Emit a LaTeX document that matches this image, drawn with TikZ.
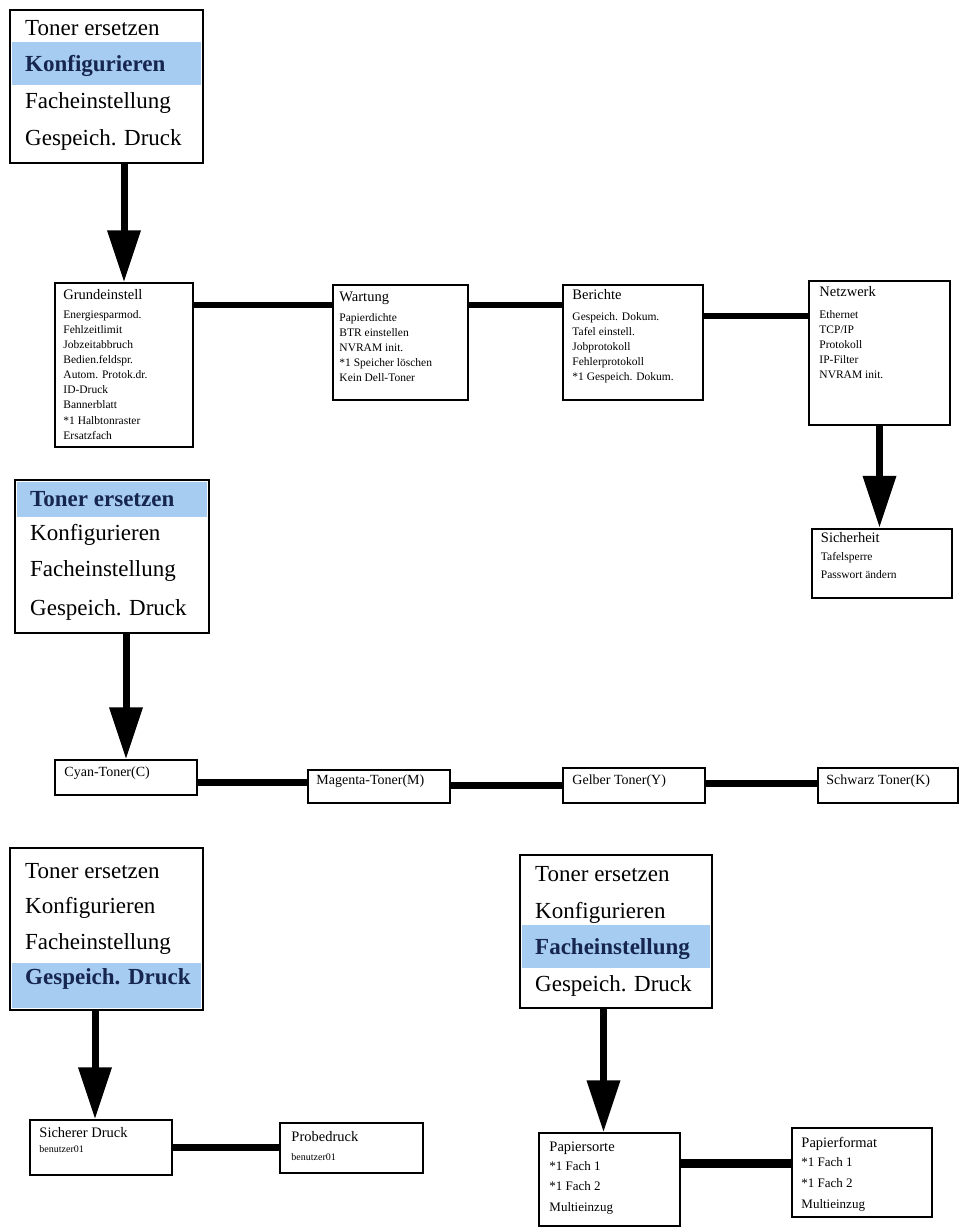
\documentclass[tikz,border=0pt]{standalone}
\usepackage{fontspec}
\setmainfont{Liberation Serif}
\usetikzlibrary{arrows.meta,calc}
\definecolor{BandBlue}{RGB}{166,204,242}
\definecolor{BandText}{RGB}{22,38,78}

\begin{document}
\begin{tikzpicture}
  [
    x=1pt, y=-1pt,
    menu box/.style={draw, line width=2pt, minimum width=193pt, minimum height=153pt, inner sep=0pt},
    menu text/.style={anchor=west, inner sep=0pt, font=\fontsize{23}{23}\selectfont, text height=16pt, text depth=0pt},
    menu hl/.style={menu text, font=\fontsize{23}{23}\selectfont\bfseries, text=BandText},
    sub box/.style={draw, line width=1.5pt, inner sep=0pt},
    head text/.style={anchor=west, inner sep=0pt, font=\fontsize{14.5}{14.5}\selectfont, text height=10pt, text depth=0pt},
    item text/.style={anchor=west, inner sep=0pt, font=\fontsize{11.5}{11.5}\selectfont, text height=8pt, text depth=0pt},
    small text/.style={item text, font=\fontsize{10}{10}\selectfont, text height=7pt},
    link/.style={line width=6pt},
    down arrow/.style={line width=7pt, -{Triangle[width=32pt, length=52pt]}}
  ]
  \useasboundingbox (0,0) rectangle (964,1231);

  % menu 1: Konfigurieren
  \fill[BandBlue] (12,42) rectangle (201,85);
  \node[menu box] (menu1) at (106.5,86.5) {};
  \node[menu text] (m1-1) at (25,28) {Toner ersetzen};
  \node[menu hl] (m1-2) at (25,63) {Konfigurieren};
  \node[menu text] (m1-3) at (25,100) {Facheinstellung};
  \node[menu text] (m1-4) at (25,137) {Gespeich. Druck};

  % Konfigurieren submenus
  \node[sub box, minimum width=138pt, minimum height=164pt] (grund) at (124,365) {};
  \node[head text] (grund-h) at ($(grund.north west)+(9,12)$) {Grundeinstell};
  \foreach \t [count=\i] in {Energiesparmod., Fehlzeitlimit, Jobzeitabbruch, Bedien.feldspr., Autom. Protok.dr., ID-Druck, Bannerblatt, *1 Halbtonraster, Ersatzfach}
    \node[item text] (grund-\i) at ($(grund.north west)+(9,17+15.1*\i)$) {\t};

  \node[sub box, minimum width=135pt, minimum height=115pt] (wart) at (400.5,342.5) {};
  \node[head text] (wart-h) at ($(wart.north west)+(7,12)$) {Wartung};
  \foreach \t [count=\i] in {Papierdichte, BTR einstellen, NVRAM init., *1 Speicher löschen, Kein Dell-Toner}
    \node[item text] (wart-\i) at ($(wart.north west)+(7,18+15*\i)$) {\t};

  \node[sub box, minimum width=140pt, minimum height=115pt] (ber) at (633,342.5) {};
  \node[head text] (ber-h) at ($(ber.north west)+(10,10)$) {Berichte};
  \foreach \t [count=\i] in {Gespeich. Dokum., Tafel einstell., Jobprotokoll, Fehlerprotokoll, *1 Gespeich. Dokum.}
    \node[item text] (ber-\i) at ($(ber.north west)+(10,17+15*\i)$) {\t};

  \node[sub box, minimum width=141pt, minimum height=144pt] (netz) at (879.5,353) {};
  \node[head text] (netz-h) at ($(netz.north west)+(11,11)$) {Netzwerk};
  \foreach \t [count=\i] in {Ethernet, TCP/IP, Protokoll, IP-Filter, NVRAM init.}
    \node[item text] (netz-\i) at ($(netz.north west)+(11,19+15*\i)$) {\t};

  \node[sub box, line width=2.5pt, minimum width=140pt, minimum height=69pt] (sich) at (882,563.5) {};
  \node[head text] (sich-h) at ($(sich.north west)+(10,10)$) {Sicherheit};
  \foreach \t [count=\i] in {Tafelsperre, Passwort ändern}
    \node[item text] (sich-\i) at ($(sich.north west)+(10,11+18*\i)$) {\t};

  \coordinate (r1) at (0,305);
  \coordinate (r2) at (0,316);
  \draw[down arrow] (menu1.south -| grund.north) -- (grund.north);
  \draw[link] (grund.east |- r1) -- (wart.west |- r1);
  \draw[link] (wart.east |- r1) -- (ber.west |- r1);
  \draw[link] (ber.east |- r2) -- (netz.west |- r2);
  \draw[down arrow] (netz.south) -- (sich.north -| netz.south);

  % menu 2: Toner ersetzen
  \fill[BandBlue] (17,482) rectangle (207,517);
  \node[menu box, minimum width=194pt] (menu2) at (112,556.5) {};
  \node[menu hl] (m2-1) at (30,498) {Toner ersetzen};
  \node[menu text] (m2-2) at (30,532) {Konfigurieren};
  \node[menu text] (m2-3) at (30,568) {Facheinstellung};
  \node[menu text] (m2-4) at (30,607) {Gespeich. Druck};

  \node[sub box, minimum width=142pt, minimum height=35pt] (cyan) at (126,777.5) {};
  \node[head text, font=\fontsize{14}{14}\selectfont] (cyan-t) at ($(cyan.north west)+(10,12)$) {Cyan-Toner(C)};
  \node[sub box, minimum width=142pt, minimum height=33pt] (mag) at (379,786.5) {};
  \node[head text, font=\fontsize{14}{14}\selectfont] (mag-t) at ($(mag.north west)+(9,10)$) {Magenta-Toner(M)};
  \node[sub box, minimum width=142pt, minimum height=35pt] (gelb) at (634,785.5) {};
  \node[head text, font=\fontsize{14}{14}\selectfont] (gelb-t) at ($(gelb.north west)+(10,12)$) {Gelber Toner(Y)};
  \node[sub box, minimum width=140pt, minimum height=35pt] (schw) at (888,785.5) {};
  \node[head text, font=\fontsize{14}{14}\selectfont] (schw-t) at ($(schw.north west)+(9,12)$) {Schwarz Toner(K)};

  \coordinate (r3) at (0,782);
  \coordinate (r4) at (0,785);
  \coordinate (r5) at (0,783);
  \draw[down arrow] (menu2.south -| cyan.north) -- (cyan.north);
  \draw[link, line width=7pt] (cyan.east |- r3) -- (mag.west |- r3);
  \draw[link, line width=7pt] (mag.east |- r4) -- (gelb.west |- r4);
  \draw[link, line width=7pt] (gelb.east |- r5) -- (schw.west |- r5);

  % menu 3: Gespeich. Druck
  \fill[BandBlue] (12,963) rectangle (201,1008);
  \node[menu box, minimum height=162pt] (menu3) at (106.5,929) {};
  \node[menu text] (m3-1) at (25,870) {Toner ersetzen};
  \node[menu text] (m3-2) at (25,905) {Konfigurieren};
  \node[menu text] (m3-3) at (25,941) {Facheinstellung};
  \node[menu hl] (m3-4) at (25,976) {Gespeich. Druck};

  \node[sub box, minimum width=142pt, minimum height=55pt] (sicher) at (101,1147.5) {};
  \node[head text] (sicher-h) at ($(sicher.north west)+(10,13)$) {Sicherer Druck};
  \node[small text] (sicher-1) at ($(sicher.north west)+(10,30)$) {benutzer01};
  \node[sub box, minimum width=143pt, minimum height=50pt] (probe) at (351.5,1148) {};
  \node[head text] (probe-h) at ($(probe.north west)+(12,14)$) {Probedruck};
  \node[small text] (probe-1) at ($(probe.north west)+(12,35)$) {benutzer01};

  \coordinate (a3) at ([xshift=-6pt]sicher.north);
  \coordinate (r6) at (0,1147);
  \draw[down arrow] (menu3.south -| a3) -- (a3);
  \draw[link, line width=7pt] (sicher.east |- r6) -- (probe.west |- r6);

  % menu 4: Facheinstellung
  \fill[BandBlue] (522,925) rectangle (710,968);
  \node[menu box, minimum width=192pt] (menu4) at (616,931.5) {};
  \node[menu text] (m4-1) at (535,873) {Toner ersetzen};
  \node[menu text] (m4-2) at (535,910) {Konfigurieren};
  \node[menu hl] (m4-3) at (535,946) {Facheinstellung};
  \node[menu text] (m4-4) at (535,983) {Gespeich. Druck};

  \node[sub box, minimum width=141pt, minimum height=93pt] (sorte) at (609.5,1179.5) {};
  \node[head text] (sorte-h) at ($(sorte.north west)+(11,14)$) {Papiersorte};
  \foreach \t [count=\i] in {*1 Fach 1, *1 Fach 2, Multieinzug}
    \node[item text, font=\fontsize{13}{13}\selectfont] (sorte-\i) at ($(sorte.north west)+(11,14+20.3*\i)$) {\t};
  \node[sub box, minimum width=140pt, minimum height=89pt] (format) at (862,1172.5) {};
  \node[head text] (format-h) at ($(format.north west)+(10,15)$) {Papierformat};
  \foreach \t [count=\i] in {*1 Fach 1, *1 Fach 2, Multieinzug}
    \node[item text, font=\fontsize{13}{13}\selectfont] (format-\i) at ($(format.north west)+(10,15+20.7*\i)$) {\t};

  \coordinate (a4) at ([xshift=-6pt]sorte.north);
  \coordinate (r7) at (0,1163);
  \draw[down arrow] (menu4.south -| a4) -- (a4);
  \draw[link, line width=9pt] (sorte.east |- r7) -- (format.west |- r7);
\end{tikzpicture}
\end{document}
